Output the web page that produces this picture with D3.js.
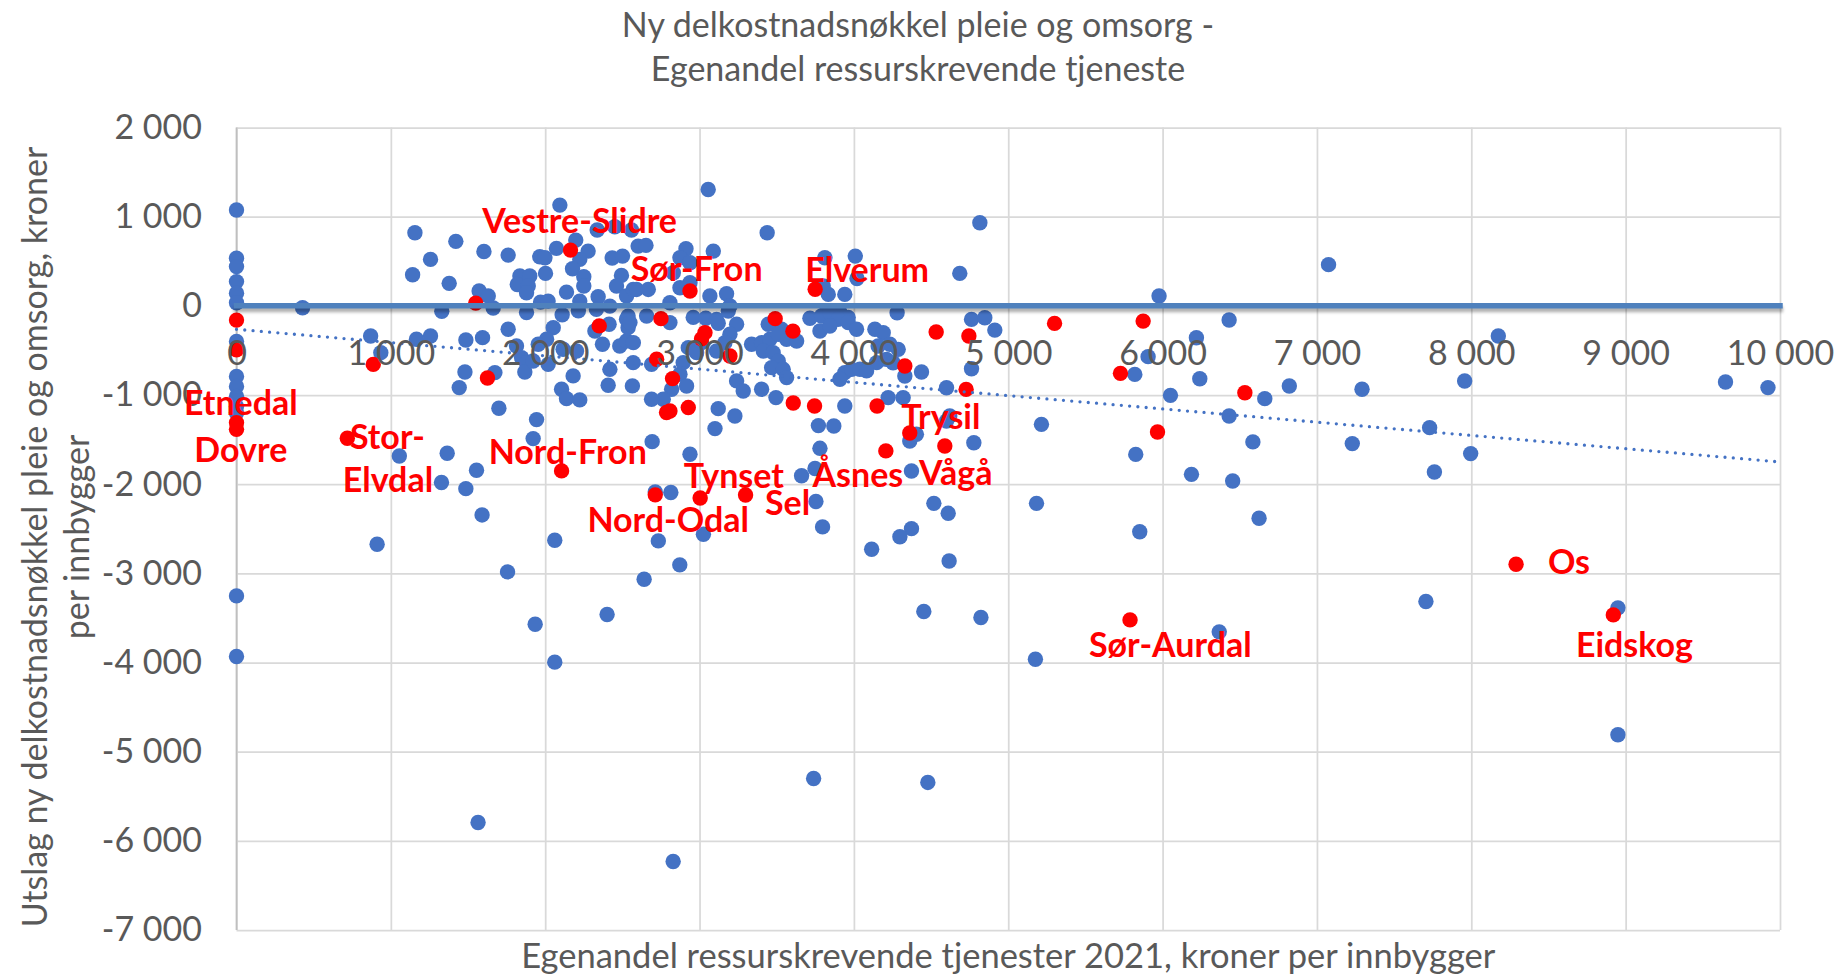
<!DOCTYPE html>
<html><head><meta charset="utf-8">
<script src="https://cdn.jsdelivr.net/npm/d3@7"></script>
<style>body{margin:0;background:#fff;overflow:hidden}</style>
</head><body>
<svg id="chart" width="1842" height="978"></svg>
<script>
// ---------- data ----------
const titleLines = ["Ny delkostnadsnøkkel pleie og omsorg -", "Egenandel ressurskrevende tjeneste"];
const xTitle = "Egenandel ressurskrevende tjenester 2021, kroner per innbygger";
const yTitleLines = ["Utslag ny delkostnadsnøkkel pleie og omsorg, kroner", "per innbygger"];
const xTicks = [0, 1000, 2000, 3000, 4000, 5000, 6000, 7000, 8000, 9000, 10000];
const yTicks = [2000, 1000, 0, -1000, -2000, -3000, -4000, -5000, -6000, -7000];

const bluePoints = [
 [0,1075],[0,534],[0,440],[0,272],[0,142],[0,34],[0,-400],[0,-792],[0,-904],[0,-1015],[0,-1128],[0,-1200],[0,-3253],[0,-3933],
 [428,-21],[869,-339],[935,-525],[1055,-1684],[911,-2674],
 [2095,1130],[1156,820],[1421,723],[1257,521],[1603,610],[1760,569],[1141,349],[1378,252],[1572,166],[1631,110],[1663,-25],[1330,-60],[1879,-75],
 [1836,334],[1900,334],[1819,240],[1890,222],[1879,147],[1965,551],[1998,539],[2002,364],[1970,42],[2019,53],[2073,644],[2138,154],[2110,-100],
 [2198,737],[2278,614],[2224,521],[2177,416],[2250,326],[2250,222],[2343,102],[2332,-40],[2224,53],[2215,-55],[2337,850],[2451,887],[2559,850],
 [2434,536],[2501,558],[2494,341],[2462,222],[2527,110],[2570,184],[2419,-3],[2537,-115],[2602,670],
 [3056,1305],[3438,820],[2653,678],[2912,640],[3089,614],[2873,539],[2938,483],[2830,371],[2938,259],[2873,203],[2592,184],[2668,184],
 [3067,110],[3175,136],[2808,35],[3197,-2],[2959,-130],[3040,-140],[3110,-152],[3715,-140],[3812,539],[4009,558],[4020,306],[3801,222],
 [3834,128],[3941,128],[3823,-59],[3909,-70],[3963,-130],[4280,-77],
 [1760,-263],[1166,-375],[1257,-338],[1486,-383],[1594,-357],[2052,-245],[2009,-375],[1955,-431],[1814,-450],[1847,-581],[1879,-637],[1868,-742],
 [1922,-618],[2019,-656],[2116,-487],[2203,-506],[2181,-786],[2106,-936],[2138,-1041],[2224,-1055],[2322,-282],[2414,-207],[2371,-431],[2419,-712],
 [2408,-891],[2565,-898],[2483,-450],[2527,-394],[2537,-245],[2527,-151],[2570,-637],[1480,-742],[1443,-917],[1674,-749],[1700,-1149],[1944,-1276],
 [1922,-1489],[1365,-1653],[1555,-1844],[1328,-1982],[1486,-2050],[1591,-2345],[1756,-2984],[2062,-2629],[1935,-3571],[2062,-3996],[1565,-5794],
 [2657,-114],[2808,-188],[2549,-188],[2571,-413],[3121,-196],[3240,-207],[3186,-58],[3197,-319],[3164,-413],[3110,-506],[2689,-656],[2873,-768],
 [2916,-899],[2819,-936],[2765,-1048],[2689,-1048],[2927,-469],[2981,-525],[3013,-413],[2894,-637],[3240,-842],[3283,-955],[3402,-936],[3495,-1029],
 [3121,-1153],[3229,-1235],[3100,-1377],[2693,-1523],[2938,-1665],[3337,-431],[3402,-413],[3456,-375],[3531,-263],[3564,-375],[3413,-506],[3477,-525],
 [3510,-618],[3467,-693],[3542,-712],[3564,-805],[3445,-207],[3510,-319],[3629,-394],[3790,-114],[3844,-76],[3898,-151],[3963,-188],[4017,-263],
 [3780,-282],[3844,-226],[4136,-263],[4190,-301],[4157,-450],[4233,-431],[4211,-600],[4147,-637],[3941,-749],[3985,-712],[4039,-712],[4082,-730],
 [3909,-824],[4222,-1029],[3941,-1123],[3770,-1343],[3870,-1347],[3780,-1598],[3748,-1825],[3661,-1905],
 [2713,-2087],[2814,-2094],[2733,-2636],[3025,-2561],[2872,-2905],[2641,-3066],[2401,-3462],[3739,-5301],[3754,-2195],[3797,-2479],[4115,-2730],[2829,-6231],
 [4816,932],[4686,364],[5977,110],[4762,-152],[4848,-133],[4913,-272],[4287,-488],[4254,-638],[4330,-787],[4438,-742],[4762,-705],[5820,-769],
 [5906,-570],[6219,-358],[6241,-817],[4600,-918],[4319,-1030],[6051,-1004],[4621,-1236],[4600,-1292],[5215,-1329],[4405,-1441],[4362,-1516],[4777,-1535],
 [5826,-1666],[6187,-1890],[4373,-1852],[4518,-2215],[4611,-2327],[5183,-2215],[4373,-2499],[4298,-2589],[5852,-2533],[4617,-2861],
 [6431,-159],[4453,-3428],[4823,-3496],[5176,-3963],[6367,-3656],[7706,-3316],[4479,-5345],[7075,462],[8175,-338],[7957,-843],[7730,-1366],[7996,-1657],
 [7761,-1863],[9647,-854],[9922,-917],[6431,-1235],[6585,-1526],[7229,-1545],[6454,-1964],[6625,-2382],[6662,-1041],[6821,-899],[7292,-936],
 [8950,-3387],[8950,-4811]
];

const redPoints = [
 [0,-160],[0,-493],[0,-1310],[0,-1385],[718,-1485],[886,-657],[1550,30],[1626,-810],[2106,-1851],[2164,625],[2350,-225],[2750,-144],
 [2938,166],[3035,-301],[3013,-370],[3197,-562],[2722,-599],[2825,-816],[2786,-1197],[2808,-1179],[2927,-1141],[3490,-144],[3605,-284],
 [3607,-1090],[3745,-1123],[4150,-1124],[4207,-1627],[2713,-2120],[3004,-2155],[3298,-2122],[3749,186],[4533,-294],[4745,-339],[5300,-197],
 [5874,-171],[4330,-675],[5727,-757],[4727,-937],[4362,-1426],[4589,-1572],[5967,-1415],[6533,-975],[8290,-2898],[8920,-3466],[5789,-3522]
];

const labelNames = ["Vestre-Slidre","Sør-Fron","Elverum","Etnedal","Dovre","Stor-","Elvdal","Nord-Fron","Tynset","Sel","Nord-Odal","Åsnes","Vågå","Trysil","Os","Sør-Aurdal","Eidskog"];
const labelX = [2223, 2981, 4086, 28, 28, 978, 981, 2146, 3222, 3570, 2797, 4026, 4660, 4563, 8633, 6050, 9057];
const labelY = [968, 430, 424, -1075, -1604, -1453, -1939, -1617, -1887, -2190, -2383, -1876, -1861, -1225, -2854, -3785, -3785];

const trendX = [0, 10000];
const trendY = [-263, -1751];
const zeroX = [0, 10000];
const zeroY = [0, 0];

// ---------- drawing ----------
const svg = d3.select("#chart");
const FONT = "Lato, 'Open Sans', sans-serif";
const GREY = "#595959";

const x = d3.scaleLinear().domain([0, 10000]).range([236.5, 1780]);
const y = d3.scaleLinear().domain([-7000, 2000]).range([930, 127.5]);

const loc = d3.formatLocale({decimal: ",", thousands: "\u00a0", grouping: [3], currency: ["", ""], minus: "-"});
const fmt = loc.format(",d");

const defs = svg.append("defs");
defs.append("filter").attr("id", "blur").attr("filterUnits", "userSpaceOnUse")
  .attr("x", 0).attr("y", 0).attr("width", 1842).attr("height", 978)
  .append("feGaussianBlur").attr("stdDeviation", 1.6);

// gridlines
const gx = svg.append("g").attr("transform", `translate(0,${y(-7000)})`)
  .call(d3.axisBottom(x).tickValues(xTicks).tickSize(-(y(-7000) - y(2000))).tickFormat(""));
gx.select(".domain").remove();
gx.selectAll("line").attr("stroke", "#D9D9D9").attr("stroke-width", 1.75);

const gy = svg.append("g").attr("transform", `translate(${x(0)},0)`)
  .call(d3.axisLeft(y).tickValues(yTicks).tickSize(-(x(10000) - x(0))).tickFormat(""));
gy.select(".domain").remove();
gy.selectAll("line").attr("stroke", "#D9D9D9").attr("stroke-width", 1.75);

// vertical value axis line
svg.append("line").attr("x1", x(0)).attr("x2", x(0)).attr("y1", y(2000)).attr("y2", y(-7000))
  .attr("stroke", "#BFBFBF").attr("stroke-width", 1.75);

// points
svg.append("g").selectAll("circle").data(bluePoints).join("circle")
  .attr("cx", d => x(d[0])).attr("cy", d => y(d[1])).attr("r", 7.7).attr("fill", "#4472C4");
svg.append("g").selectAll("circle").data(redPoints).join("circle")
  .attr("cx", d => x(d[0])).attr("cy", d => y(d[1])).attr("r", 7.7).attr("fill", "#FF0000");

// zero line with shadow
const line = d3.line().x(d => x(d[0])).y(d => y(d[1]));
const zeroData = zeroX.map((v, i) => [v, zeroY[i]]);
svg.append("path").datum(zeroData).attr("d", line)
  .attr("transform", "translate(0,3.5)")
  .attr("stroke", "#000").attr("stroke-opacity", 0.3).attr("stroke-width", 6).attr("fill", "none")
  .attr("stroke-linecap", "square").attr("filter", "url(#blur)");
svg.append("path").datum(zeroData).attr("d", line)
  .attr("stroke", "#4F81BD").attr("stroke-width", 5.5).attr("fill", "none")
  .attr("stroke-linecap", "square");

// trend line
svg.append("path").datum(trendX.map((v, i) => [v, trendY[i]])).attr("d", line)
  .attr("stroke", "#4472C4").attr("stroke-width", 3.3).attr("fill", "none")
  .attr("stroke-linecap", "round").attr("stroke-dasharray", "0 8.3");

// tick labels
const ly = svg.append("g").attr("transform", `translate(${x(0)},0)`)
  .call(d3.axisLeft(y).tickValues(yTicks).tickSize(0).tickPadding(34.5).tickFormat(fmt));
ly.select(".domain").remove();
ly.selectAll("text").attr("font-family", FONT).attr("font-size", 34).attr("fill", GREY);

const lx = svg.append("g").attr("transform", `translate(0,${y(0)})`)
  .call(d3.axisBottom(x).tickValues(xTicks).tickSize(0).tickPadding(35.5).tickFormat(fmt));
lx.select(".domain").remove();
lx.selectAll("text").attr("font-family", FONT).attr("font-size", 34).attr("fill", GREY);

// data labels
svg.append("g").selectAll("text").data(labelNames).join("text")
  .attr("x", (d, i) => x(labelX[i])).attr("y", (d, i) => y(labelY[i]))
  .attr("text-anchor", "middle").attr("dominant-baseline", "central")
  .attr("font-family", FONT).attr("font-weight", "bold").attr("font-size", 34).attr("fill", "#FF0000")
  .text(d => d);

// titles
svg.append("g").selectAll("text").data(titleLines).join("text")
  .attr("x", 918).attr("y", (d, i) => 37 + i * 43.5)
  .attr("text-anchor", "middle").attr("font-family", FONT).attr("font-size", 34).attr("fill", GREY)
  .text(d => d);

svg.append("text").attr("x", (x(0) + x(10000)) / 2).attr("y", 968)
  .attr("text-anchor", "middle").attr("font-family", FONT).attr("font-size", 34.5).attr("fill", GREY)
  .text(xTitle);

svg.append("g").selectAll("text").data(yTitleLines).join("text")
  .attr("transform", (d, i) => `translate(${47 + i * 42},${537}) rotate(-90)`)
  .attr("text-anchor", "middle").attr("font-family", FONT).attr("font-size", 34).attr("fill", GREY)
  .text(d => d);
</script>
</body></html>
